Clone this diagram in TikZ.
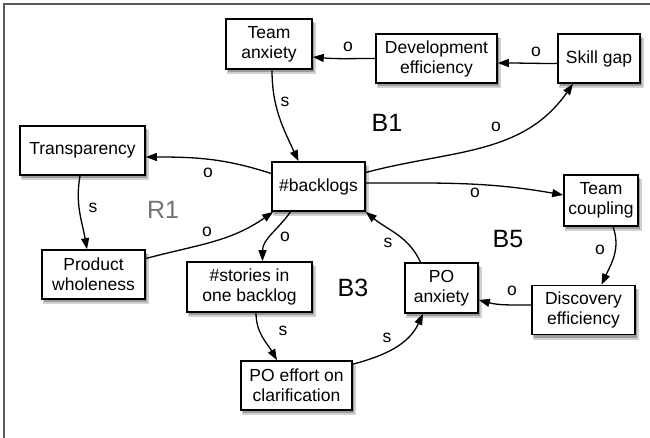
\documentclass[tikz,border=0pt]{standalone}
\usepackage{fontspec}
\setmainfont{Liberation Sans}
\usepackage{tikz}
\usetikzlibrary{arrows.meta,calc,positioning,shadows}

\begin{document}
\begin{tikzpicture}[x=1pt,y=-1pt,
  box/.style={rectangle,draw,line width=1.6pt,fill=white,align=center,
              minimum height=49pt,inner sep=0pt,
              font=\fontsize{17.5}{20}\selectfont,
              drop shadow={shadow xshift=2.5pt,shadow yshift=-4.5pt,shadow scale=1.03,fill=black,opacity=.18},
              drop shadow={shadow xshift=2pt,shadow yshift=-3pt,fill=black!60,opacity=.5}},
  sign/.style={font=\fontsize{17.5}{20}\selectfont},
  loop/.style={font=\fontsize{25}{28}\selectfont},
  arrow/.style={-{Triangle[length=11pt,width=8pt]},line width=1.3pt},
  frame/.style={line width=1.5pt,black!65}]

\useasboundingbox (0,0) rectangle (650,438);
\draw[frame] (650,4) -- (4,4) -- (4,438);

\node[box,minimum width=86pt,minimum height=50pt] (ta) at (269,44) {Team\\anxiety};
\node[box,minimum width=121pt] (de) at (436.5,58.5) {Development\\efficiency};
\node[box,minimum width=82pt] (sg) at (599,58.5) {Skill gap};
\node[box,minimum width=125pt] (tr) at (82.5,150.5) {Transparency};
\node[box,minimum width=93pt] (bl) at (318.5,186.5) {\#backlogs};
\node[box,minimum width=74pt,minimum height=51pt] (tc) at (601,200.5) {Team\\coupling};
\node[box,minimum width=103pt] (pw) at (93.5,274.5) {Product\\wholeness};
\node[box,minimum width=125pt,minimum height=50pt] (st) at (249.5,287) {\#stories in\\one backlog};
\node[box,minimum width=73pt,minimum height=50pt] (pa) at (441.5,288) {PO\\anxiety};
\node[box,minimum width=103pt] (dc) at (583.5,310) {Discovery\\efficiency};
\node[box,minimum width=111pt] (pe) at (296.5,385.5) {PO effort on\\clarification};

\draw[arrow] (de.west) to[out=180,in=-5] ([yshift=-13pt]ta.east);
\draw[arrow] ([yshift=-5pt]sg.west) to[out=180,in=0] ([yshift=-4.5pt]de.east);
\draw[arrow] ([xshift=3pt]ta.south) to[out=-90,in=115] ([xshift=-20pt]bl.north);
\draw[arrow] ([yshift=14pt]bl.east) to[out=15,in=-125] ([xshift=-26pt]sg.south);
\draw[arrow] ([yshift=13pt]bl.west) to[out=162,in=0] ([yshift=-6.5pt]tr.east);
\draw[arrow] ([xshift=-2.5pt]tr.south) to[out=-100,in=100] ([xshift=-6.5pt]pw.north);
\draw[arrow] ([yshift=16pt]pw.east) to[out=15,in=-145] ([xshift=2pt]bl.south west);
\draw[arrow] ([xshift=-28pt]bl.south) to[out=-125,in=90] ([xshift=13pt]st.north);
\draw[arrow] ([yshift=3.5pt]bl.east) to[out=0,in=170] ([yshift=5.5pt]tc.west);
\draw[arrow] ([xshift=-21pt]pa.north) to[out=115,in=-40] (bl.south east);
\draw[arrow] ([xshift=12pt]tc.south) to[out=-70,in=65] ([xshift=18pt]dc.north);
\draw[arrow] ([yshift=5pt]dc.west) to[out=180,in=-15] ([yshift=-12pt]pa.east);
\draw[arrow] ([xshift=6.5pt]st.south) to[out=-90,in=120] ([xshift=-19.5pt]pe.north);
\draw[arrow] ([yshift=-4pt]pe.north east) to[out=15,in=-115] ([xshift=-18.5pt]pa.south);

\node[sign] (o1) at (348,47) {o};
\node[sign] (o2) at (536,52) {o};
\node[sign] (s1) at (285,102) {s};
\node[sign] (o3) at (496,127) {o};
\node[sign] (o4) at (208,173) {o};
\node[sign] (s2) at (93,208) {s};
\node[sign] (o5) at (207,232) {o};
\node[sign] (o6) at (285,237) {o};
\node[sign] (o7) at (475,193) {o};
\node[sign] (s3) at (388,243) {s};
\node[sign] (o8) at (600,250) {o};
\node[sign] (o9) at (512,291) {o};
\node[sign] (s4) at (283,331) {s};
\node[sign] (s5) at (387,338) {s};

\node[loop] (b1) at (387,123) {B1};
\node[loop,black!55] (r1) at (163,210) {R1};
\node[loop] (b5) at (508,239) {B5};
\node[loop] (b3) at (353,288) {B3};
\end{tikzpicture}
\end{document}
